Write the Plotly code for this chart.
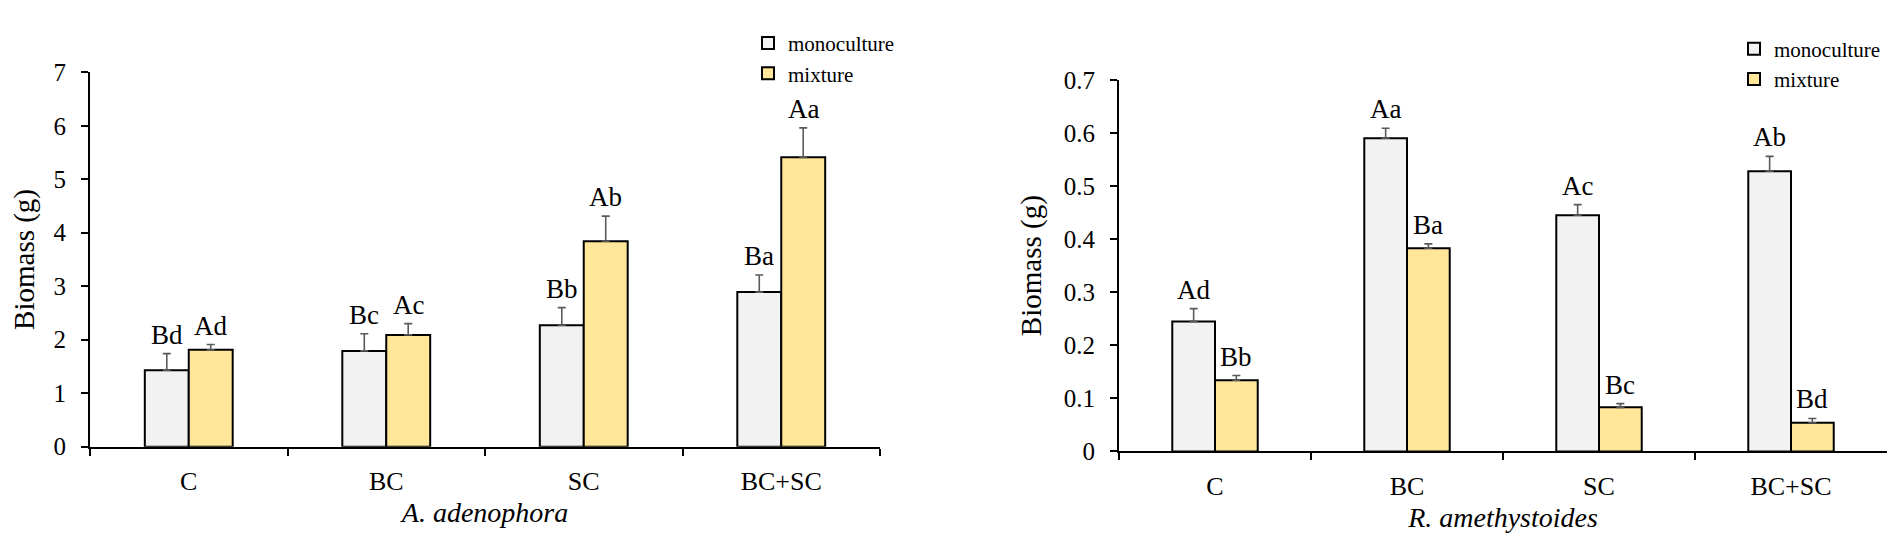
import plotly.graph_objects as go

# ---------------- data ----------------
categories = ["C", "BC", "SC", "BC+SC"]
series_names = ["monoculture", "mixture"]

aa_mono = [1.43, 1.79, 2.27, 2.89]
aa_mono_err = [0.31, 0.32, 0.33, 0.32]
aa_mix = [1.81, 2.09, 3.84, 5.41]
aa_mix_err = [0.10, 0.21, 0.47, 0.55]
aa_mono_letters = ["Bd", "Bc", "Bb", "Ba"]
aa_mix_letters = ["Ad", "Ac", "Ab", "Aa"]

ra_mono = [0.245, 0.590, 0.445, 0.528]
ra_mono_err = [0.024, 0.019, 0.020, 0.028]
ra_mix = [0.134, 0.383, 0.083, 0.054]
ra_mix_err = [0.009, 0.008, 0.007, 0.008]
ra_mono_letters = ["Ad", "Aa", "Ac", "Ab"]
ra_mix_letters = ["Bb", "Ba", "Bc", "Bd"]

aa_yticks = [0, 1, 2, 3, 4, 5, 6, 7]
ra_yticks = [0, 0.1, 0.2, 0.3, 0.4, 0.5, 0.6, 0.7]
ra_yticklabels = ["0", "0.1", "0.2", "0.3", "0.4", "0.5", "0.6", "0.7"]

# ---------------- style ----------------
FONT = "Liberation Serif, Times New Roman, serif"
MONO_COLOR = "#F2F2F2"
MIX_COLOR = "#FFE699"
ERR_COLOR = "#595959"
BARGAP = 0.555

fig = go.Figure()


def add_bars(xaxis, yaxis, mono, mono_err, mix, mix_err, legend):
    for name, vals, errs, color in [
        (series_names[0], mono, mono_err, MONO_COLOR),
        (series_names[1], mix, mix_err, MIX_COLOR),
    ]:
        fig.add_trace(go.Bar(
            x=categories, y=vals, name=name,
            xaxis=xaxis, yaxis=yaxis, legend=legend,
            marker=dict(color=color, line=dict(color="black", width=2)),
            error_y=dict(type="data", array=errs, arrayminus=[0] * len(errs),
                         symmetric=False, color=ERR_COLOR, thickness=1.6, width=4),
        ))


add_bars("x", "y", aa_mono, aa_mono_err, aa_mix, aa_mix_err, "legend")
add_bars("x2", "y2", ra_mono, ra_mono_err, ra_mix, ra_mix_err, "legend2")

half = (1 - BARGAP) / 4  # centre offset of each bar inside a group


def add_letters(xref, yref, vals, errs, letters, offset):
    for i, (v, e, t) in enumerate(zip(vals, errs, letters)):
        fig.add_annotation(
            x=i + offset, y=v + e, xref=xref, yref=yref, text=t,
            showarrow=False, yanchor="bottom", yshift=2,
            font=dict(family=FONT, size=27, color="black"))


add_letters("x", "y", aa_mono, aa_mono_err, aa_mono_letters, -half)
add_letters("x", "y", aa_mix, aa_mix_err, aa_mix_letters, half)
add_letters("x2", "y2", ra_mono, ra_mono_err, ra_mono_letters, -half)
add_letters("x2", "y2", ra_mix, ra_mix_err, ra_mix_letters, half)

W, H = 1902, 541

xcommon = dict(
    type="category", range=[-0.5, 3.5], showline=True, linecolor="black", linewidth=2,
    ticks="outside", tickson="boundaries", ticklen=7, tickwidth=2, tickcolor="black",
    showgrid=False, zeroline=False, ticklabelstandoff=10,
    tickfont=dict(family=FONT, size=26, color="black"),
)
ycommon = dict(
    showline=True, linecolor="black", linewidth=2, ticks="outside", ticklen=7,
    tickwidth=2, tickcolor="black", showgrid=False, zeroline=False,
    ticklabelstandoff=10, tickfont=dict(family=FONT, size=25, color="black"),
)

fig.update_layout(
    width=W, height=H,
    margin=dict(l=0, r=0, t=0, b=0),
    paper_bgcolor="white", plot_bgcolor="white",
    barmode="group", bargap=BARGAP, bargroupgap=0,
    font=dict(family=FONT, color="black"),
    xaxis=dict(xcommon, domain=[82 / W, 872 / W], anchor="y",
               title=dict(text="<i>A. adenophora</i>", standoff=8,
                          font=dict(family=FONT, size=28, color="black"))),
    yaxis=dict(ycommon, domain=[1 - 448 / H, 1 - 54 / H], anchor="x", range=[0, 7],
               tickvals=aa_yticks,
               title=dict(text="Biomass (g)", standoff=14,
                          font=dict(family=FONT, size=29, color="black"))),
    xaxis2=dict(xcommon, domain=[1111 / W, 1879 / W], anchor="y2",
                title=dict(text="<i>R. amethystoides</i>", standoff=8,
                           font=dict(family=FONT, size=28, color="black"))),
    yaxis2=dict(ycommon, domain=[1 - 453 / H, 1 - 62 / H], anchor="x2", range=[0, 0.7],
                tickvals=ra_yticks, ticktext=ra_yticklabels,
                title=dict(text="Biomass (g)", standoff=14,
                           font=dict(family=FONT, size=29, color="black"))),
    legend=dict(x=740 / W, y=1 - 2 / H, xanchor="left", yanchor="top",
                bgcolor="rgba(0,0,0,0)", font=dict(family=FONT, size=21, color="black"),
                tracegroupgap=0),
    legend2=dict(x=1726 / W, y=1 - 8 / H, xanchor="left", yanchor="top",
                 bgcolor="rgba(0,0,0,0)", font=dict(family=FONT, size=21, color="black"),
                 tracegroupgap=0),
)

fig.write_html("out.html")
